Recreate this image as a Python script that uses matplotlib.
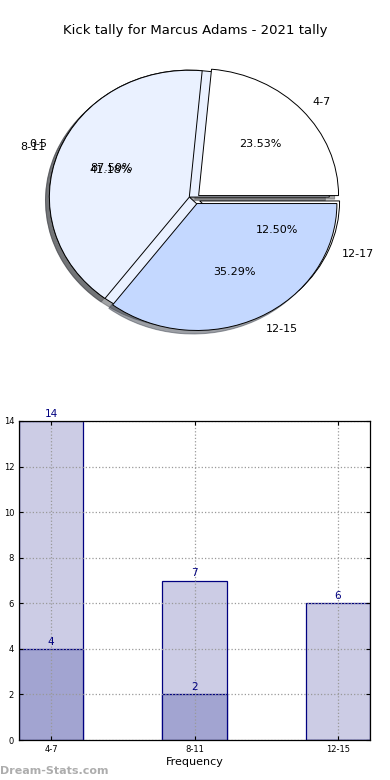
import numpy as np
import matplotlib
matplotlib.use('Agg')
import matplotlib.pyplot as plt

# pie data
pie1_labels = ['4-7', '8-11', '12-15']
pie1_values = [4, 7, 6]
pie2_labels = ['0-5', '12-17']
pie2_values = [14, 2]

# bar data
bar_labels = ['4-7', '8-11', '12-15']
bar_total = [14, 7, 6]
bar_part = [4, 2, 0]

pie_colors = ['#ffffff', '#eaf1ff', '#c4d8ff']

fig = plt.figure(figsize=(3.9, 7.8), dpi=100)
fig.text(0.5, 0.961, 'Kick tally for Marcus Adams - 2021 tally', ha='center', va='center', fontsize=9.5)

# pie axes (not equal aspect -> a little elliptical)
ax1 = fig.add_axes([49 / 390, 1 - 331 / 780, 291 / 390, 264 / 780])
wp = dict(edgecolor='black', linewidth=0.7)
ax1.pie(pie2_values, labels=pie2_labels, autopct='%1.2f%%', colors=['#eaf1ff', '#ffffff'],
        explode=[0.04, 0.04], shadow=True, wedgeprops=wp,
        textprops=dict(fontsize=8))
ax1.pie(pie1_values, labels=pie1_labels, autopct='%1.2f%%', colors=pie_colors,
        explode=[0.04, 0.04, 0.04], shadow=True, wedgeprops=wp,
        textprops=dict(fontsize=8))
ax1.set_aspect('auto')
ax1.set_xlim(-1.04, 1.04)
ax1.set_ylim(-1.04, 1.04)

# bar axes
ax2 = fig.add_axes([19 / 390, 1 - 740 / 780, 351 / 390, 319 / 780])
x = np.arange(len(bar_labels))
w = 0.45
ax2.bar(x, bar_total, w, color='#ccccE5', edgecolor='#000080', linewidth=0.9, zorder=2)
ax2.bar(x, bar_part, w, color='#a2a4d1', edgecolor='#000080', linewidth=0.9, zorder=2)
for xi, v in zip(x, bar_total):
    ax2.text(xi, v + 0.1, str(v), ha='center', va='bottom', color='#000080', fontsize=7.5, zorder=4)
for xi, v in zip(x, bar_part):
    if v:
        ax2.text(xi, v + 0.1, str(v), ha='center', va='bottom', color='#000080', fontsize=7.5, zorder=4)
ax2.set_xlim(-0.225, 2.225)
ax2.set_ylim(0, 14)
ax2.set_yticks(range(0, 15, 2))
ax2.set_xticks(x)
ax2.set_xticklabels(bar_labels)
ax2.tick_params(labelsize=6, length=3, direction='in', top=True, right=True)
ax2.grid(True, linestyle=':', color='#999999', linewidth=0.9, zorder=3)
ax2.set_axisbelow(False)
for s in ax2.spines.values():
    s.set_linewidth(0.9)
    s.set_zorder(5)
ax2.set_xlabel('Frequency', fontsize=8, labelpad=2)
ax2.set_ylabel('Distinct Kicks', fontsize=7, labelpad=4)

fig.text(0.0, 0.012, 'Dream-Stats.com', color='#999999', fontsize=8, fontweight='bold',
         ha='left', va='center', alpha=0.8)

fig.savefig('out.png', dpi=100)
